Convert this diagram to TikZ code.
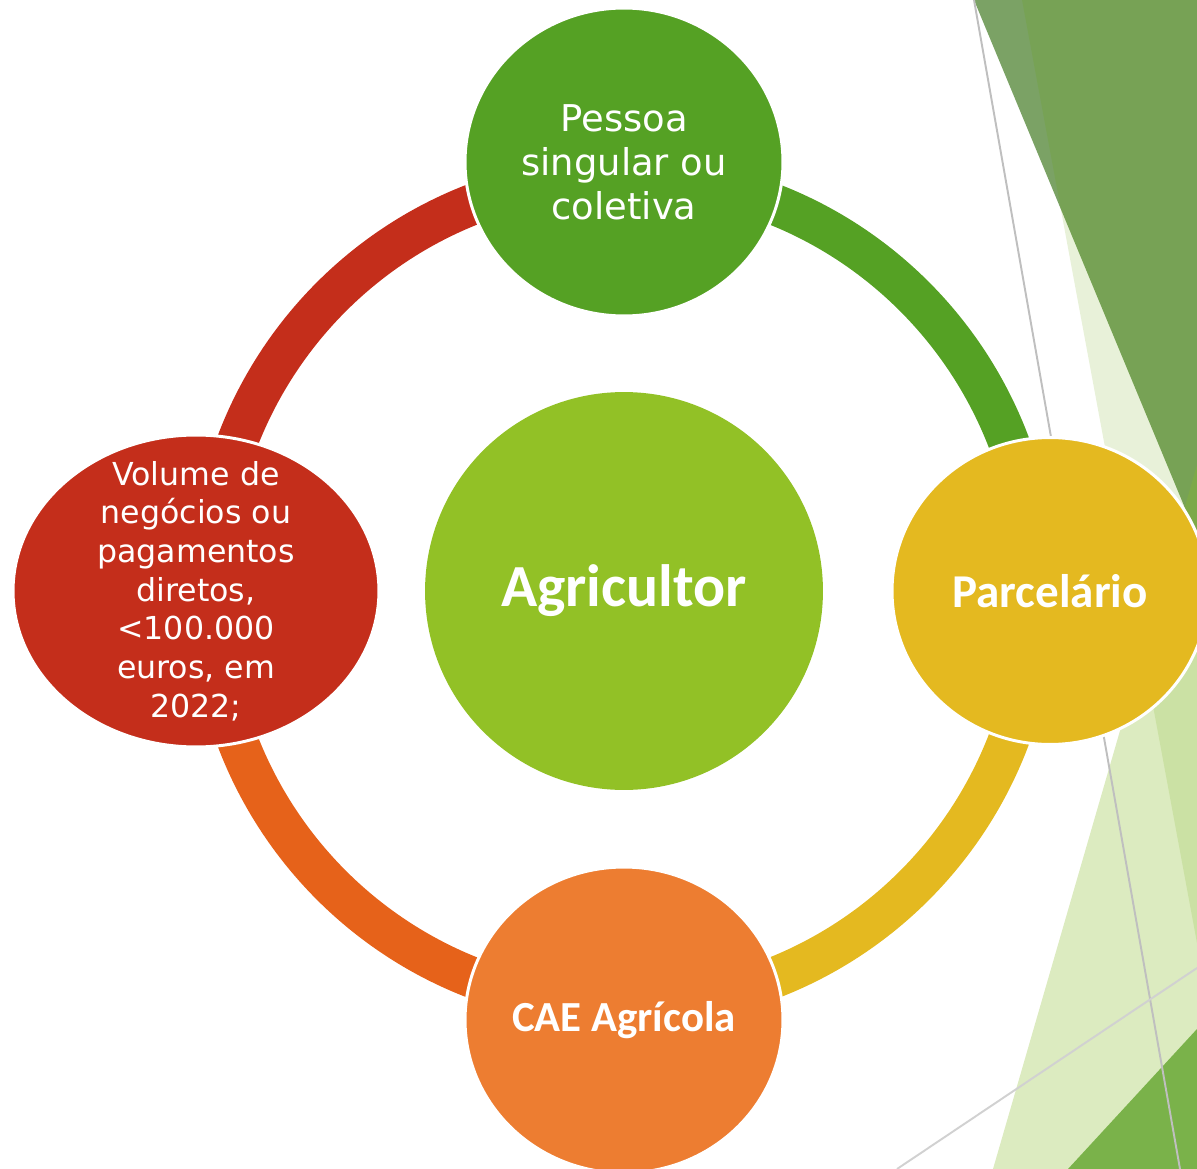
\documentclass[tikz,border=0pt]{standalone}
\usepackage{fontspec}
\setmainfont{DejaVu Sans}
\newfontfamily\calib{Carlito}
\usetikzlibrary{shapes.geometric,backgrounds}

\definecolor{verde}{HTML}{55A124}
\definecolor{verdeclaro}{HTML}{92C126}
\definecolor{amarelo}{HTML}{E4B920}
\definecolor{laranja}{HTML}{ED7D31}
\definecolor{laranjaesc}{HTML}{E6621A}
\definecolor{vermelho}{HTML}{C42E1B}
\definecolor{folha}{HTML}{7BA265}
\definecolor{folhaA}{HTML}{66A200}
\definecolor{folhaB}{HTML}{8ABC2D}
\definecolor{folhaC}{HTML}{7AB24A}

\begin{document}
\begin{tikzpicture}[x=0.02cm,y=0.02cm,
    bola/.style={ellipse,draw=white,line width=1.7pt,inner sep=0pt,text=white,align=center},
    anel/.style={line width=0.82cm},
    fino/.style={line width=1.1pt}]
    \useasboundingbox (0,0) rectangle (1197,-1169);

    \node[bola,fill=verdeclaro,draw=none,minimum width=7.96cm,minimum height=7.96cm,
        font=\calib\bfseries\fontsize{34}{40}\selectfont] (agr) at (624,-591) {Agricultor};
    \node[bola,fill=verde,minimum width=6.36cm,minimum height=6.16cm,
        font=\fontsize{21}{25}\selectfont] (pessoa) at (624,-162) {Pessoa\\singular ou\\coletiva};
    \node[bola,fill=amarelo,minimum width=6.32cm,minimum height=6.14cm,
        font=\calib\bfseries\fontsize{26.8}{30}\selectfont] (parc) at (1050,-591) {Parcelário};
    \node[bola,fill=laranja,minimum width=6.36cm,minimum height=6.12cm,
        font=\calib\bfseries\fontsize{24.4}{30}\selectfont] (cae) at (624,-1020) {CAE Agrícola};
    \node[bola,fill=vermelho,minimum width=7.32cm,minimum height=6.24cm,
        label={[text=white,align=center,font=\fontsize{18}{22}\selectfont]center:Volume de\\negócios ou\\pagamentos\\diretos,\\<100.000\\euros, em\\2022;}]
        (vol) at (196,-591) {};

    \begin{scope}[on background layer]
        % fundo do lado direito
        \fill[folha] (974,0) -- (1197,0) -- (1197,-537) -- cycle;
        \fill[folhaA,fill opacity=0.15] (1022,0) -- (1197,0) -- (1197,-943) -- cycle;
        \fill[folhaB,fill opacity=0.3] (993,-1169) -- (1197,-465) -- (1197,-1169) -- cycle;
        \fill[folhaC] (1068,-1169) -- (1197,-1029) -- (1197,-1169) -- cycle;
        \draw[fino,black!25] (974,0) -- (1180,-1169);
        \draw[fino,black!18] (897,-1169) -- (1197,-968);

        % anel
        \draw[anel,verde] ([yshift=-0.28cm]pessoa.center) to[out=0,in=90] ([xshift=-0.28cm]parc.center);
        \draw[anel,amarelo] ([xshift=-0.28cm]parc.center) to[out=-90,in=0] ([yshift=0.28cm]cae.center);
        \draw[anel,laranjaesc] ([yshift=0.28cm]cae.center) to[out=180,in=-90] ([xshift=0.28cm]vol.center);
        \draw[anel,vermelho] ([xshift=0.28cm]vol.center) to[out=90,in=180] ([yshift=-0.28cm]pessoa.center);
    \end{scope}
\end{tikzpicture}
\end{document}
